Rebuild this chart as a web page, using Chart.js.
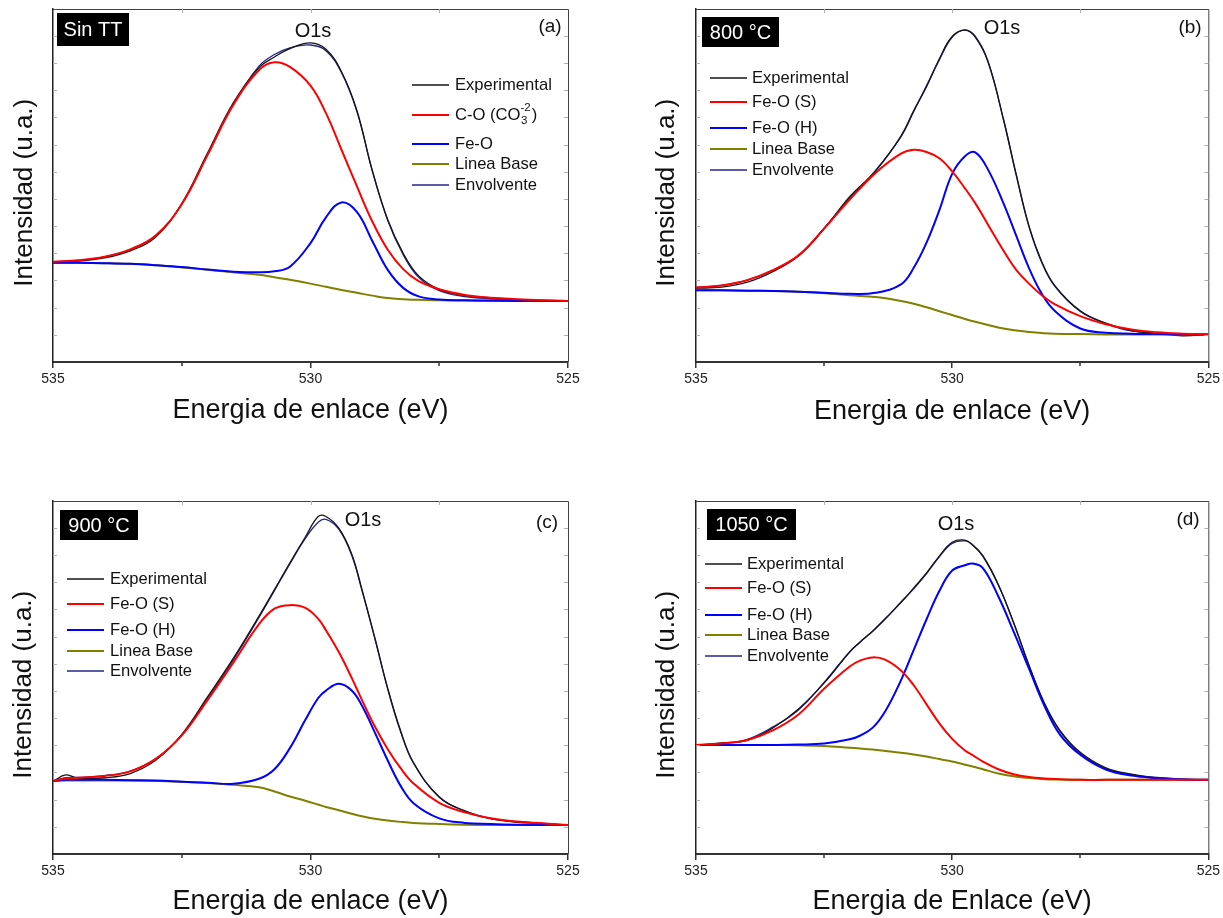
<!DOCTYPE html>
<html><head><meta charset="utf-8">
<script src="https://cdn.jsdelivr.net/npm/chart.js@4.4.0/dist/chart.umd.min.js"></script>
<style>
html,body{margin:0;padding:0;background:#fff;width:1223px;height:918px;overflow:hidden}
.p{position:absolute}
</style></head><body>
<div class="p" style="left:0;top:0;width:611px;height:459px"><canvas id="ca"></canvas></div>
<div class="p" style="left:611px;top:0;width:612px;height:459px"><canvas id="cb"></canvas></div>
<div class="p" style="left:0;top:459px;width:611px;height:459px"><canvas id="cc"></canvas></div>
<div class="p" style="left:611px;top:459px;width:612px;height:459px"><canvas id="cd"></canvas></div>
<script>
// ---------- data (binding energy in eV, intensity in arbitrary units 0-100) ----------
const xTicks = [535, 532.5, 530, 527.5, 525];

// (a) Sin TT
const energyA = [535, 534.5, 534, 533.5, 533, 532.5, 532, 531.5, 531, 530.7, 530.4, 530, 529.7, 529.4, 529.1, 528.8, 528.5, 528.2, 527.9, 527.5, 527, 526.5, 526, 525.5, 525];
const expA  = [28.2, 28.6, 29.5, 31.5, 35.5, 44.9, 59.2, 73.4, 83.4, 86.4, 88.8, 90.4, 88.6, 82.3, 71.3, 54.1, 40.3, 30.8, 24.4, 20.6, 18.8, 18.2, 17.7, 17.5, 17.2];
const coA   = [28.4, 28.8, 29.8, 31.9, 35.9, 44.7, 58.6, 72.8, 82.7, 84.9, 83.6, 78.3, 70.5, 60.2, 49.8, 39.8, 31.8, 26.3, 22.9, 20.6, 19.0, 18.2, 17.8, 17.5, 17.3];
const feoA  = [28.1, 28.1, 28.0, 27.8, 27.4, 26.9, 26.2, 25.6, 25.4, 25.7, 27.0, 33.7, 41.0, 45.2, 42.5, 34.3, 26.1, 21.0, 18.6, 17.7, 17.5, 17.4, 17.3, 17.3, 17.3];
const baseA = [28.1, 28.1, 28.0, 27.8, 27.4, 26.8, 26.1, 25.4, 24.7, 24.0, 23.3, 22.2, 21.3, 20.4, 19.6, 18.8, 18.1, 17.8, 17.6, 17.5, 17.4, 17.3, 17.3, 17.3, 17.3];
const envA  = [28.4, 28.8, 29.8, 31.9, 35.9, 44.7, 58.9, 73.1, 83.8, 87.1, 89.0, 89.8, 88.2, 82.0, 71.0, 54.3, 40.1, 30.4, 24.0, 20.2, 18.5, 17.9, 17.6, 17.4, 17.3];

// (b) 800 °C
const energyB = [535, 534.5, 534, 533.5, 533, 532.5, 532, 531.5, 531, 530.75, 530.5, 530.25, 530, 529.75, 529.55, 529.3, 529, 528.75, 528.5, 528.25, 528, 527.5, 527, 526.5, 526, 525.5, 525];
const expB  = [20.9, 21.2, 22.6, 25.6, 30.0, 37.7, 46.8, 54.0, 64.0, 71.2, 78.0, 85.9, 92.2, 94.0, 92.0, 85.0, 68.9, 53.2, 38.5, 28.4, 21.7, 14.5, 11.0, 8.9, 8.1, 7.4, 7.8];
const feoSB = [21.1, 21.7, 23.2, 26.0, 30.2, 37.8, 46.0, 53.5, 59.0, 60.1, 59.5, 57.7, 54.0, 49.2, 45.0, 38.9, 31.6, 26.1, 22.2, 18.9, 16.4, 13.0, 10.7, 9.2, 8.4, 8.0, 7.8];
const feoHB = [20.3, 20.3, 20.2, 20.1, 19.9, 19.6, 19.3, 19.6, 22.0, 26.7, 33.8, 43.0, 53.3, 58.3, 59.4, 54.5, 45.0, 35.8, 26.6, 19.3, 14.5, 9.5, 8.3, 8.0, 7.9, 7.8, 7.8];
const baseB = [20.3, 20.3, 20.2, 20.1, 19.9, 19.5, 18.9, 18.4, 17.3, 16.5, 15.5, 14.4, 13.3, 12.2, 11.4, 10.5, 9.5, 8.9, 8.5, 8.2, 8.0, 7.9, 7.8, 7.8, 7.8, 7.8, 7.8];
const envB  = [21.1, 21.7, 23.2, 26.0, 30.2, 37.9, 46.5, 54.2, 63.8, 71.0, 78.3, 85.6, 92.0, 94.1, 92.3, 85.2, 68.7, 52.9, 38.3, 28.1, 21.5, 14.3, 10.9, 8.8, 8.2, 7.9, 7.8];

// (c) 900 °C
const energyC = [535, 534.75, 534.5, 534, 533.5, 533, 532.5, 532, 531.5, 531, 530.7, 530.4, 530.1, 529.85, 529.7, 529.45, 529.2, 529, 528.75, 528.5, 528.25, 528, 527.5, 527, 526.5, 526, 525.5, 525];
const expC  = [20.6, 22.4, 21.4, 21.6, 22.8, 26.6, 33.9, 44.5, 55.4, 67.4, 74.9, 82.5, 89.8, 95.6, 95.6, 92.3, 85.0, 74.9, 61.2, 46.9, 34.9, 25.9, 16.1, 12.2, 10.0, 9.0, 8.6, 8.2];
const feoSC = [20.7, 21.4, 21.6, 22.1, 23.4, 27.0, 33.6, 43.6, 54.2, 65.1, 69.5, 70.5, 69.7, 66.6, 63.4, 57.2, 49.9, 43.6, 36.1, 29.7, 24.3, 20.0, 14.5, 11.8, 10.1, 9.2, 8.7, 8.2];
const feoHC = [20.7, 21.0, 21.0, 21.0, 20.9, 20.8, 20.5, 20.2, 19.9, 21.3, 24.0, 30.0, 38.0, 44.2, 46.3, 48.2, 46.3, 42.0, 34.4, 26.5, 19.3, 14.4, 10.1, 8.8, 8.5, 8.3, 8.2, 8.2];
const baseC = [20.7, 20.8, 20.8, 20.8, 20.8, 20.7, 20.5, 20.1, 19.6, 18.9, 17.7, 16.3, 15.1, 14.0, 13.3, 12.4, 11.4, 10.7, 10.0, 9.5, 9.1, 8.8, 8.5, 8.3, 8.2, 8.2, 8.2, 8.2];
const envC  = [20.7, 21.6, 21.7, 22.2, 23.5, 27.0, 33.6, 44.1, 55.0, 67.0, 74.6, 82.2, 89.4, 94.0, 94.8, 92.0, 84.6, 74.6, 61.0, 46.7, 34.6, 25.7, 16.2, 12.1, 10.0, 9.2, 8.7, 8.2];

// (d) 1050 °C
const energyD = [535, 534.5, 534, 533.5, 533, 532.5, 532, 531.8, 531.55, 531.3, 531, 530.75, 530.5, 530.25, 530, 529.75, 529.6, 529.4, 529.1, 528.8, 528.5, 528.2, 527.9, 527.5, 527, 526.5, 526, 525.5, 525];
const expD  = [30.8, 31.5, 32.2, 35.7, 41.1, 48.4, 57.2, 60.0, 63.2, 66.8, 71.2, 75.4, 79.6, 84.4, 88.3, 88.9, 87.5, 84.3, 76.2, 65.6, 53.5, 42.8, 35.1, 28.8, 24.4, 22.6, 21.5, 21.2, 20.9];
const feoSD = [30.9, 31.3, 32.3, 35.0, 39.5, 46.8, 53.1, 54.8, 55.7, 55.0, 52.0, 47.8, 42.4, 37.0, 32.6, 29.3, 28.0, 26.2, 24.0, 22.6, 21.8, 21.4, 21.2, 21.0, 21.0, 21.0, 21.0, 21.0, 21.0];
const feoHD = [30.9, 30.9, 30.9, 30.9, 31.0, 31.3, 32.5, 33.5, 35.8, 40.6, 49.2, 57.8, 66.5, 74.5, 80.3, 81.8, 82.3, 81.0, 73.0, 63.0, 52.5, 42.0, 33.9, 28.1, 23.9, 22.2, 21.5, 21.1, 21.0];
const baseD = [30.9, 30.9, 30.9, 30.9, 30.8, 30.6, 30.1, 29.9, 29.6, 29.2, 28.7, 28.2, 27.6, 26.9, 26.2, 25.3, 24.8, 24.0, 22.8, 22.0, 21.5, 21.2, 21.1, 21.0, 21.0, 21.0, 21.0, 21.0, 21.0];
const envD  = [30.9, 31.3, 32.5, 36.0, 40.8, 48.6, 57.3, 60.0, 63.1, 66.6, 71.4, 75.1, 79.4, 84.2, 88.0, 88.7, 87.6, 84.5, 76.4, 65.4, 53.3, 42.5, 34.8, 28.5, 24.2, 22.5, 21.7, 21.2, 21.0];

const namesA = ['Experimental', 'C-O (CO3-2)', 'Fe-O', 'Linea Base', 'Envolvente'];
const namesBCD = ['Experimental', 'Fe-O (S)', 'Fe-O (H)', 'Linea Base', 'Envolvente'];
const sampleLabels = ['Sin TT', '800 °C', '900 °C', '1050 °C'];
const panelTags = ['(a)', '(b)', '(c)', '(d)'];
const peakLabel = 'O1s';
const yTitle = 'Intensidad (u.a.)  ';
const xTitles = ['Energia de enlace (eV)', 'Energia de enlace (eV)', 'Energia de enlace (eV)', 'Energia de Enlace (eV)'];

// ---------- drawing ----------
const FONT = "'Liberation Sans', Arial, Helvetica, sans-serif";
Chart.defaults.font.family = FONT;
Chart.defaults.color = '#222';

const lineStyles = [
  {color:'#151515', width:1.3, order:4},
  {color:'#ff0000', width:2, order:1},
  {color:'#0000ff', width:2, order:2},
  {color:'#808000', width:2, order:3},
  {color:'#24248a', width:1.3, order:5}
];

const isMajor = v => Math.abs(v % 5) < 1e-9;

const decoPlugin = {
  id: 'deco',
  afterDraw(chart, args, o) {
    const {ctx, chartArea: a, scales: {x, y}} = chart;
    ctx.save();
    // frame: top and right
    ctx.strokeStyle = '#444'; ctx.lineWidth = 1;
    ctx.beginPath();
    ctx.moveTo(a.left, a.top + 0.5); ctx.lineTo(a.right + 0.5, a.top + 0.5); ctx.lineTo(a.right + 0.5, a.bottom);
    ctx.stroke();
    // minor x ticks below the axis (shorter)
    ctx.strokeStyle = '#333'; ctx.lineWidth = 1.5;
    x.ticks.forEach(t => {
      if (isMajor(t.value)) return;
      const px = Math.round(x.getPixelForValue(t.value));
      ctx.beginPath(); ctx.moveTo(px, a.bottom); ctx.lineTo(px, a.bottom + 4); ctx.stroke();
    });
    // small inner ticks
    ctx.strokeStyle = '#b0b0b0'; ctx.lineWidth = 1;
    y.ticks.forEach(t => {
      const py = Math.round(y.getPixelForValue(t.value)) + 0.5;
      if (py <= a.top + 2 || py >= a.bottom - 2) return;
      ctx.beginPath();
      ctx.moveTo(a.left, py); ctx.lineTo(a.left + 4, py);
      ctx.moveTo(a.right - 4, py); ctx.lineTo(a.right, py);
      ctx.stroke();
    });
    x.ticks.forEach(t => {
      const px = Math.round(x.getPixelForValue(t.value)) + 0.5;
      if (px <= a.left + 2 || px >= a.right - 2) return;
      ctx.beginPath(); ctx.moveTo(px, a.top); ctx.lineTo(px, a.top + 4); ctx.stroke();
    });
    // sample box
    const b = o.box;
    ctx.fillStyle = '#000';
    ctx.fillRect(b.x, b.y, b.w, b.h);
    ctx.fillStyle = '#fff';
    ctx.font = '20px ' + FONT;
    ctx.textAlign = 'center'; ctx.textBaseline = 'middle';
    ctx.fillText(b.text, b.x + b.w / 2, b.y + b.h / 2 + 1);
    // O1s and panel tag
    ctx.fillStyle = '#111';
    ctx.font = '20px ' + FONT;
    ctx.fillText(o.peak.text, o.peak.x, o.peak.y);
    ctx.font = '19px ' + FONT;
    ctx.fillText(o.tag.text, o.tag.x, o.tag.y);
    // legend
    const L = o.legend;
    ctx.textAlign = 'left'; ctx.textBaseline = 'middle';
    chart.data.datasets.forEach((ds, i) => {
      const ry = L.rows[i];
      ctx.strokeStyle = ds.borderColor; ctx.lineWidth = Math.max(ds.borderWidth, 1.5);
      ctx.beginPath(); ctx.moveTo(L.x, ry); ctx.lineTo(L.x + L.len, ry); ctx.stroke();
      ctx.fillStyle = '#111';
      ctx.font = '16.6px ' + FONT;
      const lab = ds.label;
      const m = lab.match(/^(.*\(CO)(\d)(-\d)\)$/);
      if (m) {
        ctx.fillText(m[1], L.tx, ry);
        const w = ctx.measureText(m[1]).width;
        ctx.font = '11.5px ' + FONT;
        ctx.fillText(m[2], L.tx + w + 0.5, ry + 6);
        ctx.fillText(m[3], L.tx + w, ry - 7);
        const w2 = Math.max(ctx.measureText(m[2]).width, ctx.measureText(m[3]).width);
        ctx.font = '16.6px ' + FONT;
        ctx.fillText(')', L.tx + w + w2 + 1, ry);
      } else {
        ctx.fillText(lab, L.tx, ry);
      }
    });
    ctx.restore();
  }
};

function makePanel(id, energy, series, names, lay, deco, xTitle) {
  const datasets = series.map((arr, i) => ({
    label: names[i],
    data: energy.map((e, k) => ({x: e, y: arr[k]})),
    borderColor: lineStyles[i].color,
    borderWidth: lineStyles[i].width,
    order: lineStyles[i].order,
    pointRadius: 0,
    fill: false,
    tension: 0.4
  }));
  return new Chart(document.getElementById(id), {
    type: 'line',
    data: {datasets},
    options: {
      responsive: true, maintainAspectRatio: false, animation: false,
      layout: {padding: {left: 0, right: lay.right, top: lay.top, bottom: 0}},
      plugins: {legend: {display: false}, tooltip: {enabled: false}, deco},
      scales: {
        x: {
          type: 'linear', min: 525, max: 535, reverse: true,
          afterBuildTicks: s => { s.ticks = xTicks.map(v => ({value: v})); },
          ticks: {autoSkip: false, maxRotation: 0, padding: 3, color: '#222', font: {size: 14},
                  callback: v => (isMajor(v) ? String(v) : '')},
          grid: {display: true, drawOnChartArea: false, drawTicks: true, tickLength: 6, lineWidth: 1.5,
                 color: '#333',
                 tickColor: c => (c.tick && !isMajor(c.tick.value) ? 'rgba(0,0,0,0)' : '#333')},
          border: {display: true, color: '#333', width: 2},
          title: {display: true, text: xTitle, color: '#111', font: {size: 27}, padding: {top: 0, bottom: lay.xTitlePad}},
          afterFit: s => { s.height = lay.xHeight; }
        },
        y: {
          type: 'linear', min: 0, max: 100,
          ticks: {display: false, stepSize: 7.7},
          grid: {display: false},
          border: {display: true, color: '#222', width: 1.5},
          title: {display: true, text: yTitle, color: '#111', font: {size: 26}, padding: {top: lay.yTitlePad, bottom: 0}},
          afterFit: s => { s.width = lay.yWidth; }
        }
      }
    },
    plugins: [decoPlugin]
  });
}

makePanel('ca', energyA, [expA, coA, feoA, baseA, envA], namesA,
  {right: 43, top: 9, yWidth: 53, xHeight: 97, yTitlePad: 9, xTitlePad: 32},
  {box: {x: 57, y: 13, w: 72, h: 33, text: sampleLabels[0]}, peak: {x: 313, y: 31, text: peakLabel}, tag: {x: 550, y: 27, text: panelTags[0]},
   legend: {x: 412, len: 37, tx: 455, rows: [85, 115, 144, 164, 185]}}, xTitles[0]);

makePanel('cb', energyB, [expB, feoSB, feoHB, baseB, envB], namesBCD,
  {right: 13, top: 9, yWidth: 85, xHeight: 97, yTitlePad: 40, xTitlePad: 31},
  {box: {x: 91, y: 17, w: 77, h: 30, text: sampleLabels[1]}, peak: {x: 391, y: 28, text: peakLabel}, tag: {x: 579, y: 28, text: panelTags[1]},
   legend: {x: 99, len: 37, tx: 141, rows: [78, 102, 128, 149, 170]}}, xTitles[1]);

makePanel('cc', energyC, [expC, feoSC, feoHC, baseC, envC], namesBCD,
  {right: 43, top: 42, yWidth: 53, xHeight: 64, yTitlePad: 8, xTitlePad: 0},
  {box: {x: 60, y: 51, w: 78, h: 30, text: sampleLabels[2]}, peak: {x: 363, y: 61, text: peakLabel}, tag: {x: 547, y: 64, text: panelTags[2]},
   legend: {x: 67, len: 37, tx: 110, rows: [120, 145, 171, 192, 212]}}, xTitles[2]);

makePanel('cd', energyD, [expD, feoSD, feoHD, baseD, envD], namesBCD,
  {right: 13, top: 42, yWidth: 85, xHeight: 64, yTitlePad: 40, xTitlePad: 0},
  {box: {x: 96, y: 50, w: 89, h: 31, text: sampleLabels[3]}, peak: {x: 345, y: 65, text: peakLabel}, tag: {x: 577, y: 61, text: panelTags[3]},
   legend: {x: 94, len: 37, tx: 136, rows: [105, 129, 156, 176, 197]}}, xTitles[3]);
</script>
</body></html>
